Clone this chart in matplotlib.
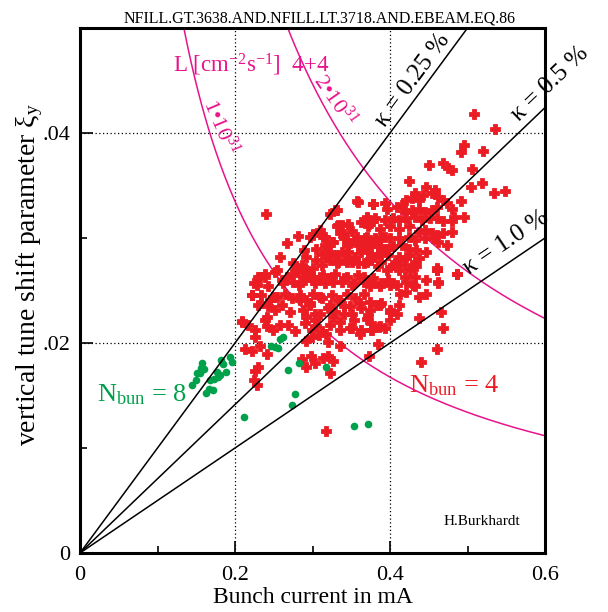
import numpy as np
import matplotlib
matplotlib.use('Agg')
import matplotlib.pyplot as plt

plt.rcParams['font.family'] = ['Liberation Serif', 'DejaVu Serif']
plt.rcParams['mathtext.fontset'] = 'custom'
plt.rcParams['mathtext.rm'] = 'Liberation Serif'
plt.rcParams['mathtext.it'] = 'Liberation Serif:italic'

# measured points, 4+4 bunches (red crosses)
red_x = [0.359, 0.240, 0.323, 0.330, 0.281, 0.301, 0.289, 0.333, 0.338, 0.346, 0.335, 0.351,
         0.363, 0.370, 0.373, 0.378, 0.314, 0.316, 0.305, 0.312, 0.323, 0.325, 0.340, 0.344,
         0.355, 0.359, 0.366, 0.368, 0.363, 0.372, 0.376, 0.346, 0.338, 0.329, 0.323, 0.333,
         0.342, 0.351, 0.359, 0.370, 0.286, 0.292, 0.301, 0.280, 0.273, 0.252, 0.239, 0.312,
         0.508, 0.536, 0.495, 0.491, 0.520, 0.450, 0.468, 0.475, 0.480, 0.506, 0.424, 0.446,
         0.505, 0.519, 0.534, 0.548, 0.432, 0.428, 0.421, 0.437, 0.443, 0.454, 0.458, 0.462,
         0.469, 0.473, 0.480, 0.492, 0.482, 0.495, 0.480, 0.378, 0.394, 0.396, 0.409, 0.415,
         0.419, 0.428, 0.437, 0.445, 0.454, 0.460, 0.370, 0.381, 0.394, 0.404, 0.411, 0.421,
         0.432, 0.441, 0.452, 0.460, 0.469, 0.372, 0.387, 0.400, 0.411, 0.424, 0.437, 0.445,
         0.454, 0.460, 0.469, 0.480, 0.370, 0.381, 0.389, 0.400, 0.411, 0.424, 0.432, 0.445,
         0.456, 0.462, 0.473, 0.374, 0.385, 0.394, 0.404, 0.415, 0.424, 0.434, 0.447, 0.385,
         0.398, 0.411, 0.424, 0.437, 0.376, 0.389, 0.406, 0.419, 0.432, 0.411, 0.460,
         0.230, 0.239, 0.242, 0.228, 0.260, 0.267, 0.275, 0.282, 0.290, 0.297, 0.303, 0.310,
         0.316, 0.323, 0.329, 0.338, 0.344, 0.351, 0.359, 0.366, 0.374, 0.378, 0.222, 0.234,
         0.245, 0.254, 0.265, 0.273, 0.284, 0.292, 0.301, 0.312, 0.325, 0.333, 0.344, 0.355,
         0.366, 0.374, 0.230, 0.243, 0.252, 0.260, 0.271, 0.288, 0.297, 0.303, 0.320, 0.329,
         0.340, 0.351, 0.363, 0.372, 0.209, 0.217, 0.226, 0.239, 0.241, 0.249, 0.258, 0.277,
         0.269, 0.290, 0.299, 0.303, 0.312, 0.323, 0.335, 0.351, 0.363, 0.376, 0.226, 0.213,
         0.222, 0.232, 0.241, 0.292, 0.299, 0.308, 0.320, 0.335, 0.286, 0.298, 0.292, 0.303,
         0.314, 0.320, 0.326, 0.323, 0.230, 0.226, 0.225, 0.228, 0.317,
         0.419, 0.432, 0.447, 0.460, 0.487, 0.462, 0.430, 0.421, 0.413, 0.400, 0.389, 0.404,
         0.411, 0.389, 0.383, 0.400, 0.409, 0.437, 0.466, 0.468, 0.386, 0.377, 0.393, 0.385,
         0.373, 0.460, 0.440,
         0.329, 0.301, 0.316, 0.327, 0.340, 0.348, 0.357, 0.374, 0.383, 0.394, 0.398, 0.387,
         0.292, 0.305, 0.318, 0.331, 0.344, 0.355, 0.366, 0.376, 0.385, 0.396, 0.404, 0.413,
         0.421, 0.426, 0.434, 0.288, 0.301, 0.314, 0.327, 0.340, 0.353, 0.366, 0.376, 0.387,
         0.398, 0.409, 0.421, 0.432, 0.437, 0.447, 0.460, 0.462, 0.486, 0.284, 0.297, 0.310,
         0.323, 0.335, 0.348, 0.361, 0.374, 0.387, 0.400, 0.310, 0.327, 0.340, 0.353, 0.370,
         0.387, 0.400, 0.292, 0.305, 0.318, 0.335, 0.348, 0.361, 0.376,
         0.357, 0.378, 0.331, 0.224, 0.232, 0.222, 0.234, 0.209, 0.241, 0.249, 0.262, 0.280,
         0.301, 0.267, 0.297, 0.310, 0.318, 0.331, 0.258, 0.275, 0.254]
red_y = [0.0334, 0.0323, 0.0323, 0.0327, 0.0302, 0.0304, 0.0289, 0.0312, 0.0312, 0.0313, 0.0305, 0.0307,
         0.0315, 0.0320, 0.0313, 0.0316, 0.0301, 0.0293, 0.0290, 0.0285, 0.0287, 0.0296, 0.0300, 0.0293,
         0.0298, 0.0293, 0.0296, 0.0300, 0.0287, 0.0290, 0.0284, 0.0287, 0.0287, 0.0284, 0.0279, 0.0277,
         0.0279, 0.0277, 0.0276, 0.0277, 0.0274, 0.0270, 0.0271, 0.0268, 0.0266, 0.0268, 0.0266, 0.0274,
         0.0418, 0.0404, 0.0389, 0.0382, 0.0383, 0.0370, 0.0371, 0.0367, 0.0365, 0.0366, 0.0354, 0.0349,
         0.0349, 0.0352, 0.0343, 0.0345, 0.0343, 0.0338, 0.0336, 0.0336, 0.0341, 0.0343, 0.0346, 0.0339,
         0.0336, 0.0333, 0.0328, 0.0335, 0.0320, 0.0320, 0.0316, 0.0332, 0.0333, 0.0328, 0.0330, 0.0331,
         0.0325, 0.0327, 0.0328, 0.0325, 0.0327, 0.0330, 0.0319, 0.0319, 0.0317, 0.0319, 0.0317, 0.0319,
         0.0320, 0.0317, 0.0319, 0.0319, 0.0316, 0.0311, 0.0309, 0.0311, 0.0309, 0.0311, 0.0306, 0.0308,
         0.0305, 0.0303, 0.0305, 0.0306, 0.0301, 0.0300, 0.0301, 0.0300, 0.0300, 0.0301, 0.0298, 0.0300,
         0.0300, 0.0296, 0.0293, 0.0293, 0.0292, 0.0290, 0.0292, 0.0293, 0.0290, 0.0289, 0.0287, 0.0285,
         0.0284, 0.0282, 0.0284, 0.0281, 0.0281, 0.0277, 0.0276, 0.0274, 0.0277, 0.0270, 0.0270,
         0.0263, 0.0263, 0.0254, 0.0255, 0.0260, 0.0263, 0.0258, 0.0255, 0.0260, 0.0265, 0.0257, 0.0263,
         0.0257, 0.0262, 0.0266, 0.0258, 0.0263, 0.0255, 0.0265, 0.0258, 0.0254, 0.0262, 0.0246, 0.0246,
         0.0241, 0.0244, 0.0247, 0.0243, 0.0246, 0.0241, 0.0247, 0.0243, 0.0246, 0.0241, 0.0247, 0.0243,
         0.0247, 0.0239, 0.0236, 0.0235, 0.0231, 0.0236, 0.0230, 0.0231, 0.0236, 0.0228, 0.0233, 0.0230,
         0.0235, 0.0228, 0.0233, 0.0227, 0.0220, 0.0217, 0.0212, 0.0222, 0.0216, 0.0212, 0.0217, 0.0211,
         0.0217, 0.0219, 0.0212, 0.0222, 0.0211, 0.0217, 0.0220, 0.0214, 0.0212, 0.0219, 0.0206, 0.0194,
         0.0192, 0.0197, 0.0190, 0.0202, 0.0206, 0.0208, 0.0201, 0.0197, 0.0185, 0.0188, 0.0177, 0.0181,
         0.0186, 0.0188, 0.0183, 0.0171, 0.0177, 0.0173, 0.0165, 0.0160, 0.0116,
         0.0263, 0.0263, 0.0260, 0.0270, 0.0266, 0.0257, 0.0255, 0.0249, 0.0247, 0.0255, 0.0257, 0.0257,
         0.0236, 0.0238, 0.0236, 0.0230, 0.0228, 0.0224, 0.0230, 0.0214, 0.0215, 0.0212, 0.0214, 0.0199,
         0.0188, 0.0194, 0.0182,
         0.0327, 0.0303, 0.0301, 0.0296, 0.0304, 0.0295, 0.0301, 0.0292, 0.0295, 0.0301, 0.0290, 0.0285,
         0.0282, 0.0279, 0.0282, 0.0276, 0.0277, 0.0282, 0.0276, 0.0279, 0.0273, 0.0270, 0.0274, 0.0279,
         0.0282, 0.0270, 0.0273, 0.0263, 0.0260, 0.0265, 0.0258, 0.0262, 0.0257, 0.0263, 0.0258, 0.0254,
         0.0260, 0.0255, 0.0258, 0.0254, 0.0244, 0.0247, 0.0271, 0.0258, 0.0266, 0.0241, 0.0238, 0.0244,
         0.0236, 0.0241, 0.0235, 0.0238, 0.0231, 0.0236, 0.0231, 0.0228, 0.0225, 0.0228, 0.0222, 0.0223,
         0.0216, 0.0222, 0.0225, 0.0216, 0.0209, 0.0212, 0.0214, 0.0209, 0.0212,
         0.0335, 0.0332, 0.0327, 0.0257, 0.0263, 0.0246, 0.0238, 0.0221, 0.0225, 0.0244, 0.0257, 0.0270,
         0.0263, 0.0295, 0.0301, 0.0308, 0.0292, 0.0311, 0.0282, 0.0276, 0.0270]

# 8+8 bunches (green dots)
green_x = [0.158, 0.156, 0.151, 0.155, 0.160, 0.150, 0.168, 0.173, 0.177, 0.182, 0.185, 0.193,
           0.196, 0.188, 0.163, 0.166, 0.171, 0.178, 0.212, 0.262, 0.258, 0.246, 0.252, 0.255,
           0.282, 0.269, 0.318, 0.277, 0.273, 0.354, 0.371, 0.145, 0.180]
green_y = [0.0181, 0.0176, 0.0171, 0.0171, 0.0175, 0.0165, 0.0165, 0.0166, 0.0172, 0.0184, 0.0180, 0.0187,
           0.0182, 0.0172, 0.0152, 0.0156, 0.0155, 0.0168, 0.0130, 0.0206, 0.0204, 0.0197, 0.0196, 0.0195,
           0.0181, 0.0174, 0.0177, 0.0151, 0.0141, 0.0121, 0.0123, 0.0160, 0.0170]

# beam-beam lines xi = slope * I, for coupling kappa
kappa = [0.25, 0.5, 1.0]
kappa_slope = [0.10, 0.0707, 0.05]
kappa_pos = [(0.430, 0.0450), (0.607, 0.0447), (0.550, 0.0295)]
kappa_rot = [53.6, 43.8, 34.0]

# constant luminosity curves xi * I = const
lumi = [1, 2]
lumi_const = [0.0067, 0.0134]

red = '#ec1c24'
green = '#00a14b'
pink = '#e8138c'

fig = plt.figure(figsize=(6.08, 6.12), dpi=100)
ax = fig.add_axes([80 / 608, 59 / 612, 465 / 608, 525 / 612])
ax.set_xlim(0, 0.6)
ax.set_ylim(0, 0.05)

for x in [0.2, 0.4]:
    ax.axvline(x, color='black', lw=0.9, ls=(0, (1, 2)), zorder=1)
for y in [0.02, 0.04]:
    ax.axhline(y, color='black', lw=0.9, ls=(0, (1, 2)), zorder=1)

ax.plot(red_x, red_y, ls='none', marker='P', ms=6.5, color=red, mec=red, mew=0.6, zorder=3)
ax.plot(green_x, green_y, ls='none', marker='o', ms=5.5, color=green, mec='none', zorder=3)

I = np.linspace(0.001, 0.6, 400)
for s in kappa_slope:
    ax.plot(I, s * I, color='black', lw=1.1, zorder=4)
for c in lumi_const:
    ax.plot(I, c / I, color=pink, lw=1.1, zorder=2)

for k, (tx, ty), r in zip(kappa, kappa_pos, kappa_rot):
    ax.text(tx, ty, 'κ = %s %%' % k, rotation=r, rotation_mode='anchor',
            ha='center', va='center', fontsize=18, color='black', zorder=5)

ax.text(0.12, 0.0465, 'L [cm$^{-2}$s$^{-1}$]  4+4', color=pink, fontsize=16.5,
        ha='left', va='center')
ax.text(0.181, 0.0406, '1•10$^{31}$', color=pink, fontsize=16, rotation=-67,
        rotation_mode='anchor', ha='center', va='center')
ax.text(0.329, 0.0431, '2•10$^{31}$', color=pink, fontsize=16, rotation=-55,
        rotation_mode='anchor', ha='center', va='center')

ax.text(0.022, 0.0151, 'N$_{\\mathrm{bun}}$ = 8', color=green, fontsize=19, ha='left', va='center')
ax.text(0.425, 0.0159, 'N$_{\\mathrm{bun}}$ = 4', color=red, fontsize=19, ha='left', va='center')
ax.text(0.519, 0.0030, 'H.Burkhardt', fontsize=11, ha='center', va='center')

ax.set_xticks([0, 0.2, 0.4, 0.6])
ax.set_xticklabels(['0', '0.2', '0.4', '0.6'])
ax.set_xticks([0.1, 0.3, 0.5], minor=True)
ax.set_yticks([0, 0.02, 0.04])
ax.set_yticklabels(['0', '.02', '.04'])
ax.set_yticks([0.01, 0.03, 0.05], minor=True)
ax.tick_params(which='both', direction='in', labelsize=16, width=1.2)
ax.tick_params(which='major', length=9)
ax.tick_params(axis='x', which='major', pad=9)
ax.tick_params(axis='y', which='major', pad=7)
ax.tick_params(which='minor', length=5)
for sp in ax.spines.values():
    sp.set_linewidth(2.2)

ax.set_xlabel('Bunch current in mA', fontsize=17, labelpad=2)
ax.set_ylabel('vertical tune shift parameter ξ$_{\\mathrm{y}}$', fontsize=20)
ax.yaxis.set_label_coords(-0.108, 0.53)
ax.yaxis.label.set_verticalalignment('center')
ax.set_title('NFILL.GT.3638.AND.NFILL.LT.3718.AND.EBEAM.EQ.86', fontsize=11.5, x=0.516, pad=4)

fig.savefig('out.png', dpi=100)
